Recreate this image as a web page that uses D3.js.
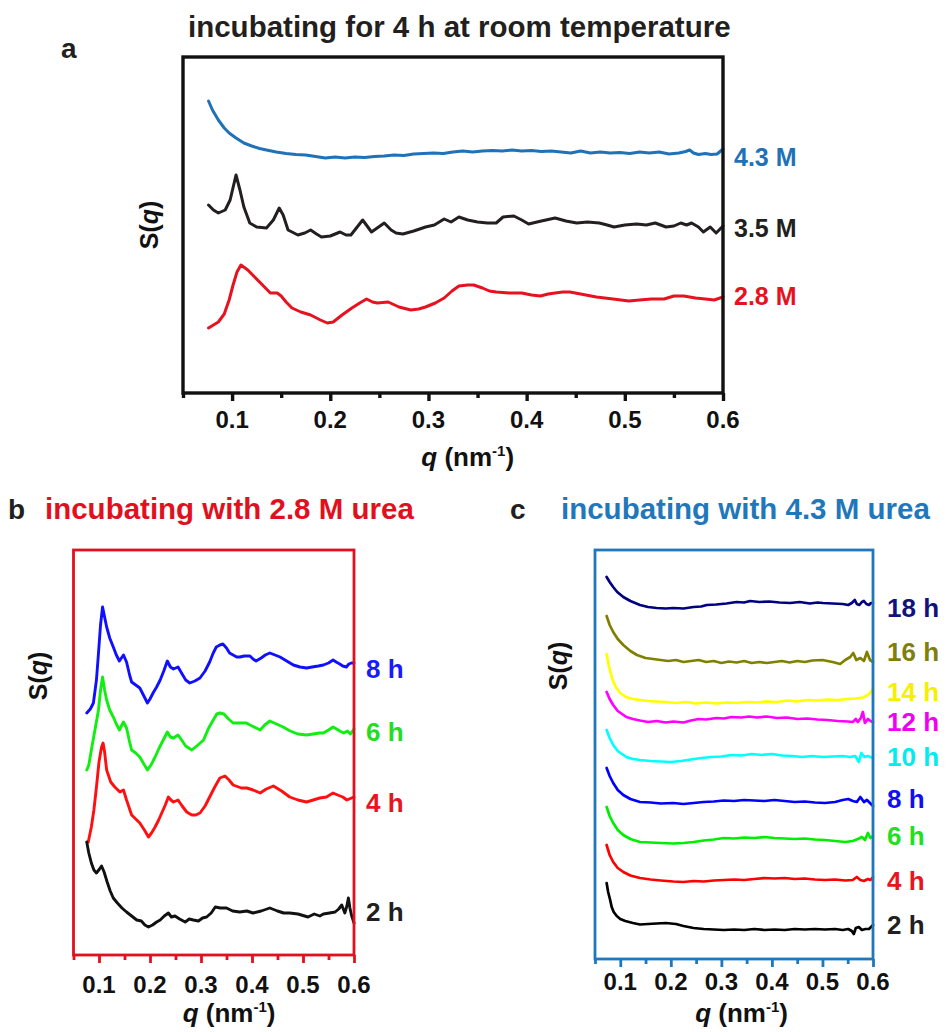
<!DOCTYPE html>
<html>
<head>
<meta charset="utf-8">
<script src="https://cdn.jsdelivr.net/npm/d3@7"></script>
<style>
  body { margin: 0; background: #fff; }
  svg text { font-family: "Liberation Sans", Arial, Helvetica, sans-serif; font-weight: bold; }
</style>
</head>
<body>
<svg id="fig" width="949" height="1032"></svg>
<script>
// ---------- shared axis values ----------
const qDomain = [0.05, 0.6];
const majorTicks = [0.1, 0.2, 0.3, 0.4, 0.5, 0.6];
const minorTicks = [0.05, 0.15, 0.25, 0.35, 0.45, 0.55];

// ---------- panel a: 4 h at room temperature, three urea concentrations ----------
// each curve: [q (nm^-1), S(q) + vertical offset (a.u.)]
const aLabels = ["4.3 M", "3.5 M", "2.8 M"];
const a43M = [
  [0.076,29.2],[0.080,28.3],[0.086,27.3],[0.092,26.5],[0.097,26.0],[0.104,25.5],[0.112,25.0],[0.120,24.7],
  [0.128,24.45],[0.135,24.3],[0.145,24.1],[0.155,23.95],[0.165,23.85],[0.175,23.8],[0.185,23.65],[0.195,23.5],
  [0.205,23.6],[0.215,23.5],[0.225,23.6],[0.235,23.55],[0.245,23.65],[0.255,23.7],[0.265,23.8],[0.275,23.75],
  [0.285,23.9],[0.295,23.95],[0.305,24.0],[0.315,23.95],[0.325,24.1],[0.335,24.2],[0.345,24.1],[0.355,24.2],
  [0.365,24.25],[0.375,24.2],[0.385,24.3],[0.395,24.2],[0.405,24.25],[0.415,24.15],[0.425,24.2],[0.435,24.1],
  [0.445,24.0],[0.455,24.2],[0.465,24.0],[0.475,24.1],[0.485,24.0],[0.495,24.05],[0.505,23.95],[0.515,24.1],
  [0.525,24.0],[0.535,24.1],[0.545,23.9],[0.555,24.0],[0.562,24.15],[0.566,24.3],[0.570,24.0],[0.575,23.85],
  [0.582,23.95],[0.588,23.85],[0.594,23.9],[0.600,24.4]
];
const a35M = [
  [0.076,18.8],[0.081,18.3],[0.086,18.0],[0.093,18.3],[0.098,19.3],[0.104,21.8],[0.108,20.3],[0.112,18.6],
  [0.118,17.0],[0.125,16.6],[0.135,16.5],[0.142,17.3],[0.148,18.5],[0.152,17.8],[0.157,16.3],[0.167,15.8],
  [0.174,16.0],[0.180,16.3],[0.186,15.9],[0.191,15.6],[0.200,15.7],[0.210,16.1],[0.216,15.8],[0.221,15.8],
  [0.233,17.3],[0.242,16.1],[0.255,17.0],[0.262,16.3],[0.267,16.0],[0.274,15.9],[0.285,16.2],[0.297,16.6],
  [0.306,16.8],[0.316,17.4],[0.323,17.1],[0.331,17.6],[0.340,17.3],[0.350,17.1],[0.360,17.0],[0.369,17.0],
  [0.376,17.6],[0.387,17.7],[0.395,17.3],[0.402,16.9],[0.415,17.2],[0.429,17.5],[0.440,17.2],[0.451,17.0],
  [0.462,17.1],[0.474,17.0],[0.482,16.8],[0.489,16.6],[0.500,16.8],[0.512,16.9],[0.522,16.8],[0.531,17.0],
  [0.542,16.6],[0.550,16.7],[0.557,17.0],[0.563,16.8],[0.568,17.0],[0.575,16.6],[0.580,16.1],[0.587,16.6],
  [0.593,16.0],[0.600,16.7]
];
const a28M = [
  [0.076,6.5],[0.086,7.1],[0.092,7.9],[0.097,9.3],[0.101,10.8],[0.105,12.1],[0.109,12.8],[0.116,12.3],
  [0.123,11.6],[0.131,10.8],[0.139,10.0],[0.146,10.0],[0.150,9.7],[0.155,9.1],[0.161,8.5],[0.170,8.1],
  [0.180,7.8],[0.190,7.3],[0.197,7.0],[0.203,7.1],[0.212,7.8],[0.222,8.5],[0.230,9.0],[0.237,9.4],
  [0.243,9.1],[0.248,9.0],[0.259,9.1],[0.270,8.6],[0.282,8.3],[0.290,8.4],[0.297,8.6],[0.307,9.0],
  [0.316,9.5],[0.324,10.2],[0.331,10.7],[0.340,10.8],[0.346,10.8],[0.355,10.5],[0.362,10.2],[0.369,10.1],
  [0.382,10.0],[0.395,10.0],[0.405,9.8],[0.414,9.7],[0.422,9.9],[0.429,10.0],[0.437,10.1],[0.444,10.1],
  [0.455,9.9],[0.471,9.6],[0.488,9.4],[0.504,9.2],[0.515,9.3],[0.527,9.4],[0.540,9.4],[0.550,9.7],
  [0.560,9.7],[0.572,9.5],[0.582,9.4],[0.591,9.3],[0.600,9.6]
];

// ---------- panel b: 2.8 M urea, incubation time ----------
const bLabels = ["8 h", "6 h", "4 h", "2 h"];
const b8h = [
  [0.076,24.2],[0.083,24.6],[0.089,25.2],[0.095,27.5],[0.099,30.2],[0.103,33.0],[0.107,34.8],[0.111,33.8],
  [0.115,32.8],[0.121,31.7],[0.128,30.8],[0.134,30.0],[0.140,29.4],[0.144,29.7],[0.148,30.0],[0.154,29.3],
  [0.160,28.0],[0.164,27.3],[0.172,27.0],[0.180,26.7],[0.188,25.9],[0.195,25.2],[0.200,25.6],[0.206,26.2],
  [0.213,26.8],[0.220,27.5],[0.227,28.4],[0.234,29.4],[0.240,28.8],[0.246,28.6],[0.255,28.8],[0.263,28.1],
  [0.270,27.5],[0.278,27.2],[0.288,27.4],[0.298,27.7],[0.308,28.4],[0.317,29.3],[0.324,30.2],[0.330,30.8],
  [0.337,31.0],[0.343,31.1],[0.350,30.7],[0.356,30.2],[0.363,30.0],[0.370,29.8],[0.376,29.8],[0.385,29.9],
  [0.396,29.9],[0.402,29.6],[0.408,29.4],[0.418,29.7],[0.426,30.0],[0.435,30.2],[0.445,30.0],[0.455,29.8],
  [0.468,29.4],[0.481,29.0],[0.494,28.8],[0.507,28.7],[0.518,28.8],[0.530,28.9],[0.540,29.0],[0.550,29.2],
  [0.559,29.5],[0.565,29.3],[0.572,29.1],[0.578,28.9],[0.585,28.8],[0.590,29.1],[0.595,29.2],[0.600,29.2]
];
const b6h = [
  [0.076,18.5],[0.080,19.0],[0.085,20.5],[0.092,22.5],[0.099,24.5],[0.103,26.5],[0.107,27.8],[0.111,26.5],
  [0.115,25.5],[0.121,24.5],[0.128,23.8],[0.134,23.1],[0.140,22.5],[0.144,22.9],[0.148,23.3],[0.154,22.7],
  [0.160,21.3],[0.164,20.5],[0.172,20.2],[0.180,19.8],[0.188,19.1],[0.195,18.5],[0.202,19.0],[0.210,19.8],
  [0.218,20.7],[0.226,21.5],[0.234,22.3],[0.240,21.8],[0.246,21.7],[0.255,22.0],[0.262,21.5],[0.270,20.9],
  [0.282,20.5],[0.294,21.0],[0.305,21.5],[0.315,22.7],[0.324,23.5],[0.331,24.1],[0.337,24.2],[0.345,24.1],
  [0.354,23.6],[0.363,23.2],[0.376,23.2],[0.389,23.2],[0.400,22.9],[0.416,22.5],[0.425,23.0],[0.435,23.4],
  [0.448,23.1],[0.461,22.8],[0.475,22.4],[0.490,22.1],[0.507,22.0],[0.520,22.1],[0.532,22.2],[0.540,22.2],
  [0.550,22.5],[0.559,22.8],[0.566,22.6],[0.572,22.4],[0.580,22.2],[0.587,22.4],[0.593,22.1],[0.600,22.6]
];
const b4h = [
  [0.079,11.3],[0.085,12.8],[0.090,14.5],[0.095,16.8],[0.100,19.3],[0.105,20.8],[0.108,21.2],[0.111,20.3],
  [0.115,18.5],[0.123,17.3],[0.131,16.8],[0.141,16.3],[0.148,16.5],[0.154,15.5],[0.164,14.0],[0.172,13.6],
  [0.180,13.2],[0.189,12.5],[0.197,11.8],[0.203,12.2],[0.210,12.8],[0.217,13.5],[0.223,14.2],[0.230,15.0],
  [0.236,15.8],[0.241,15.5],[0.246,15.3],[0.255,15.5],[0.263,14.9],[0.272,14.3],[0.282,14.0],[0.290,14.0],
  [0.298,14.2],[0.308,14.9],[0.317,15.8],[0.327,16.8],[0.337,17.7],[0.347,17.9],[0.355,17.5],[0.363,17.0],
  [0.379,16.7],[0.390,16.7],[0.402,16.5],[0.416,16.2],[0.428,16.6],[0.442,16.9],[0.458,16.4],[0.474,15.8],
  [0.490,15.5],[0.507,15.3],[0.520,15.5],[0.533,15.7],[0.546,15.8],[0.559,16.2],[0.568,16.0],[0.578,15.8],
  [0.586,15.5],[0.595,15.7],[0.600,15.8]
];
const b2h = [
  [0.076,11.3],[0.080,10.2],[0.085,9.2],[0.090,8.5],[0.095,8.2],[0.101,8.6],[0.105,8.9],[0.110,8.3],
  [0.116,7.3],[0.122,6.4],[0.128,5.7],[0.136,5.2],[0.145,4.7],[0.154,4.3],[0.164,3.9],[0.174,3.5],
  [0.183,3.4],[0.190,3.0],[0.197,2.8],[0.205,3.0],[0.213,3.3],[0.220,3.5],[0.228,3.9],[0.236,4.2],
  [0.242,3.8],[0.249,3.9],[0.258,3.6],[0.269,3.3],[0.277,3.6],[0.285,3.5],[0.295,3.4],[0.303,3.7],
  [0.311,3.8],[0.320,4.2],[0.328,4.8],[0.338,4.7],[0.350,4.7],[0.362,4.4],[0.376,4.3],[0.390,4.4],
  [0.402,4.2],[0.418,4.4],[0.435,4.7],[0.450,4.4],[0.462,4.2],[0.474,4.2],[0.490,4.1],[0.510,3.8],
  [0.522,4.1],[0.533,3.9],[0.540,4.1],[0.552,4.2],[0.563,4.3],[0.570,4.6],[0.576,5.0],[0.582,4.2],
  [0.586,4.9],[0.589,5.7],[0.592,4.7],[0.595,4.0],[0.600,3.2]
];

// ---------- panel c: 4.3 M urea, incubation time ----------
const cLabels = ["18 h", "16 h", "14 h", "12 h", "10 h", "8 h", "6 h", "4 h", "2 h"];
const c18h = [
  [0.073,38.2],[0.079,37.7],[0.086,37.2],[0.094,36.7],[0.106,36.2],[0.120,35.8],[0.139,35.4],[0.155,35.2],
  [0.172,35.1],[0.190,35.05],[0.205,35.1],[0.225,35.05],[0.245,35.2],[0.260,35.25],[0.271,35.4],[0.290,35.45],
  [0.310,35.55],[0.330,35.7],[0.345,35.65],[0.357,35.8],[0.375,35.7],[0.395,35.75],[0.415,35.65],[0.436,35.6],
  [0.455,35.7],[0.475,35.55],[0.490,35.65],[0.501,35.6],[0.520,35.55],[0.540,35.5],[0.551,35.4],[0.558,35.6],
  [0.564,35.9],[0.568,35.5],[0.573,35.4],[0.578,35.7],[0.582,35.8],[0.587,35.5],[0.592,35.4],[0.596,35.6],
  [0.600,35.6]
];
const c16h = [
  [0.073,34.3],[0.079,33.4],[0.086,32.7],[0.095,32.0],[0.106,31.4],[0.120,30.8],[0.133,30.4],[0.150,30.1],
  [0.165,30.0],[0.180,29.9],[0.195,29.8],[0.210,29.9],[0.225,29.7],[0.240,29.8],[0.255,29.9],[0.270,29.7],
  [0.285,29.8],[0.300,29.6],[0.315,29.75],[0.330,29.65],[0.345,29.8],[0.360,29.6],[0.375,29.7],[0.390,29.6],
  [0.405,29.7],[0.420,29.8],[0.435,29.65],[0.450,29.8],[0.465,29.7],[0.480,29.85],[0.500,29.9],[0.520,29.7],
  [0.535,29.5],[0.545,29.9],[0.555,30.2],[0.561,30.6],[0.567,29.9],[0.575,30.1],[0.582,29.8],[0.588,30.7],
  [0.594,29.9],[0.600,29.7]
];
const c14h = [
  [0.073,30.5],[0.077,29.4],[0.081,28.6],[0.085,27.9],[0.091,27.2],[0.100,26.6],[0.111,26.2],[0.125,26.0],
  [0.140,25.9],[0.155,25.8],[0.170,25.75],[0.190,25.7],[0.210,25.6],[0.230,25.7],[0.250,25.55],[0.270,25.65],
  [0.290,25.55],[0.310,25.65],[0.330,25.6],[0.350,25.7],[0.370,25.65],[0.390,25.75],[0.410,25.7],[0.430,25.85],
  [0.450,25.75],[0.470,25.9],[0.490,25.85],[0.510,25.95],[0.530,25.9],[0.550,26.0],[0.565,26.05],[0.580,26.15],
  [0.590,26.4],[0.596,26.7],[0.600,27.1]
];
const c12h = [
  [0.073,26.7],[0.079,26.0],[0.086,25.4],[0.095,24.8],[0.112,24.2],[0.125,24.0],[0.139,23.85],[0.155,23.7],
  [0.172,23.8],[0.190,23.65],[0.205,23.75],[0.225,23.65],[0.240,23.85],[0.255,24.0],[0.270,23.95],[0.290,24.1],
  [0.305,24.05],[0.320,24.2],[0.340,24.15],[0.355,24.25],[0.370,24.15],[0.390,24.25],[0.410,24.1],[0.430,24.15],
  [0.450,24.0],[0.470,24.05],[0.490,23.95],[0.510,23.9],[0.530,23.8],[0.550,23.75],[0.560,23.7],[0.566,24.0],
  [0.570,23.7],[0.576,24.1],[0.580,24.7],[0.584,23.6],[0.590,24.0],[0.595,23.8],[0.600,23.7]
];
const c10h = [
  [0.073,22.9],[0.079,22.1],[0.086,21.4],[0.095,20.8],[0.112,20.2],[0.125,20.0],[0.139,19.9],[0.160,19.8],
  [0.180,19.75],[0.200,19.7],[0.220,19.8],[0.240,19.95],[0.260,20.1],[0.280,20.2],[0.300,20.25],[0.320,20.4],
  [0.340,20.35],[0.360,20.5],[0.380,20.4],[0.400,20.5],[0.420,20.35],[0.440,20.3],[0.460,20.2],[0.480,20.3],
  [0.500,20.2],[0.520,20.25],[0.540,20.3],[0.555,20.2],[0.565,20.3],[0.572,19.7],[0.577,20.6],[0.583,20.2],
  [0.590,20.3],[0.595,20.2],[0.600,20.1]
];
const c8h = [
  [0.073,19.1],[0.079,18.3],[0.086,17.6],[0.095,16.9],[0.106,16.4],[0.120,16.0],[0.139,15.7],[0.160,15.65],
  [0.180,15.55],[0.205,15.6],[0.225,15.5],[0.245,15.6],[0.265,15.7],[0.285,15.75],[0.305,15.85],[0.325,15.8],
  [0.345,15.9],[0.365,15.85],[0.385,15.8],[0.405,15.9],[0.425,15.8],[0.445,15.7],[0.465,15.75],[0.485,15.65],
  [0.505,15.6],[0.525,15.7],[0.540,15.9],[0.551,16.0],[0.560,15.8],[0.568,15.7],[0.575,16.2],[0.582,15.7],
  [0.588,15.9],[0.594,15.6],[0.600,15.3]
];
const c6h = [
  [0.073,15.2],[0.079,14.3],[0.086,13.6],[0.095,12.9],[0.106,12.4],[0.120,12.0],[0.139,11.7],[0.160,11.65],
  [0.180,11.6],[0.205,11.55],[0.225,11.6],[0.245,11.7],[0.265,11.85],[0.285,11.95],[0.305,12.1],[0.325,12.05],
  [0.345,12.15],[0.365,12.1],[0.385,12.2],[0.405,12.1],[0.425,12.05],[0.445,12.0],[0.465,12.05],[0.485,11.95],
  [0.505,11.9],[0.525,11.8],[0.545,11.7],[0.560,11.8],[0.570,12.0],[0.578,12.2],[0.584,11.9],[0.590,12.6],
  [0.595,12.1],[0.600,12.3]
];
const c4h = [
  [0.073,11.4],[0.079,10.4],[0.086,9.7],[0.095,9.1],[0.106,8.7],[0.120,8.35],[0.139,8.1],[0.160,7.95],
  [0.180,7.85],[0.205,7.75],[0.225,7.7],[0.245,7.8],[0.265,7.75],[0.285,7.85],[0.305,7.9],[0.325,7.95],
  [0.345,7.9],[0.365,8.0],[0.385,8.1],[0.405,8.05],[0.425,8.1],[0.445,8.0],[0.465,8.05],[0.485,7.95],
  [0.505,7.9],[0.525,7.95],[0.545,7.85],[0.560,7.9],[0.568,8.2],[0.575,7.9],[0.582,7.8],[0.590,8.0],
  [0.595,7.9],[0.600,8.2]
];
const c2h = [
  [0.073,7.6],[0.076,6.7],[0.080,5.9],[0.083,5.2],[0.087,4.7],[0.093,4.3],[0.100,4.0],[0.110,3.8],
  [0.125,3.6],[0.139,3.45],[0.155,3.5],[0.172,3.55],[0.190,3.6],[0.210,3.5],[0.225,3.3],[0.245,3.1],
  [0.265,3.0],[0.285,2.95],[0.305,2.9],[0.325,2.95],[0.345,2.9],[0.365,3.0],[0.385,2.9],[0.405,2.95],
  [0.425,2.9],[0.445,3.0],[0.465,2.95],[0.485,3.0],[0.505,2.95],[0.525,3.0],[0.540,2.9],[0.551,3.0],
  [0.558,2.8],[0.562,2.5],[0.566,3.1],[0.572,3.2],[0.578,2.9],[0.585,3.0],[0.592,3.0],[0.600,3.4]
];

// ---------- drawing ----------
const svg = d3.select("#fig");
const fmt = d3.format(".1f");

function drawPanel(p) {
  const x = d3.scaleLinear().domain(qDomain).range([p.left, p.right]);
  const y = d3.scaleLinear().domain([0, p.sMax]).range([p.bottom, p.top]);
  const g = svg.append("g");

  const line = d3.line().x(d => x(d[0])).y(d => y(d[1]));
  p.series.forEach((s, i) => {
    g.append("path").datum(s)
      .attr("d", line)
      .attr("fill", "none")
      .attr("stroke", p.colors[i])
      .attr("stroke-width", p.lineWidth)
      .attr("stroke-linejoin", "round")
      .attr("stroke-linecap", "round");
  });

  // frame
  g.append("rect")
    .attr("x", p.left).attr("y", p.top)
    .attr("width", p.right - p.left).attr("height", p.bottom - p.top)
    .attr("fill", "none").attr("stroke", p.frame).attr("stroke-width", p.frameWidth);

  // bottom axis: major and minor tick marks (labels are set separately below)
  const major = g.append("g").attr("transform", `translate(0,${p.bottom})`)
    .call(d3.axisBottom(x).tickValues(majorTicks).tickSize(8).tickFormat(""));
  const minor = g.append("g").attr("transform", `translate(0,${p.bottom})`)
    .call(d3.axisBottom(x).tickValues(minorTicks).tickSize(5).tickFormat(""));
  [major, minor].forEach(a => {
    a.select(".domain").remove();
    a.selectAll(".tick line").attr("stroke", p.frame).attr("stroke-width", p.frameWidth);
    a.selectAll(".tick text").remove();
  });

  // tick labels
  g.append("g").selectAll("text").data(majorTicks).join("text")
    .attr("x", d => x(d))
    .attr("y", p.bottom + p.tickTextY)
    .attr("text-anchor", "middle")
    .attr("font-size", 24)
    .attr("fill", "#111")
    .text(d => fmt(d));

  // x-axis title
  const xt = g.append("text")
    .attr("x", x(p.xTitleAt)).attr("y", p.xTitleY)
    .attr("text-anchor", "middle").attr("fill", "#111").attr("font-size", 26);
  xt.append("tspan").attr("font-style", "italic").text("q");
  xt.append("tspan").text(" (nm");
  xt.append("tspan").attr("dy", -10).attr("font-size", 15).text("-1");
  xt.append("tspan").attr("dy", 10).text(")");

  // y-axis title
  const yt = g.append("text")
    .attr("transform", `translate(${p.yTitleX},${p.yTitleY}) rotate(-90)`)
    .attr("text-anchor", "middle").attr("fill", "#111").attr("font-size", 25);
  yt.append("tspan").text("S(");
  yt.append("tspan").attr("font-style", "italic").text("q");
  yt.append("tspan").text(")");

  // series labels at the right end, centred on each curve's high-q plateau
  p.series.forEach((s, i) => {
    const tail = s.filter(d => d[0] >= 0.5).map(d => d[1]);
    g.append("text")
      .attr("x", p.labelX)
      .attr("y", y(d3.mean(tail)) + p.labelNudge[i])
      .attr("dy", "0.36em")
      .attr("fill", p.labelColors ? p.labelColors[i] : p.colors[i])
      .attr("font-size", p.labelSize)
      .text(p.labels[i]);
  });
}

// panel a
drawPanel({
  left: 183, right: 723, top: 57, bottom: 393, sMax: 33.6,
  frame: "#111", frameWidth: 3.4, lineWidth: 3.0,
  series: [a43M, a35M, a28M], labels: aLabels,
  colors: ["#1f72b8", "#231f20", "#e6121f"],
  labelX: 734, labelSize: 25, labelNudge: [4, 1.5, -2.5],
  tickTextY: 35, xTitleAt: 0.34, xTitleY: 466,
  yTitleX: 158, yTitleY: 225
});

// panel b
drawPanel({
  left: 73.5, right: 354, top: 550, bottom: 955, sMax: 40.5,
  frame: "#e2101e", frameWidth: 2.8, lineWidth: 2.9,
  series: [b8h, b6h, b4h, b2h], labels: bLabels,
  colors: ["#1010ff", "#11ee11", "#ff1010", "#111111"],
  labelColors: ["#1a1aff", "#22dd22", "#e8141e", "#231f20"],
  labelX: 366, labelSize: 26, labelNudge: [4, 0, 5, 0],
  tickTextY: 38, xTitleAt: 0.355, xTitleY: 1022,
  yTitleX: 47, yTitleY: 676
});

// panel c
drawPanel({
  left: 595, right: 873, top: 550, bottom: 959, sMax: 40.9,
  frame: "#1f78bb", frameWidth: 2.8, lineWidth: 2.7,
  series: [c18h, c16h, c14h, c12h, c10h, c8h, c6h, c4h, c2h], labels: cLabels,
  colors: ["#000080", "#808000", "#ffff00", "#ff00ff", "#00ffff", "#0000ff", "#00ee00", "#ff0000", "#000000"],
  labelColors: ["#12137a", "#7f7f10", "#f5f000", "#f000f0", "#00ecf0", "#1010f0", "#20e020", "#e8141e", "#231f20"],
  labelX: 887, labelSize: 26, labelNudge: [4, -7, -5, 1.5, 0, -2.5, -3.5, 1.5, -5],
  tickTextY: 31, xTitleAt: 0.34, xTitleY: 1022,
  yTitleX: 567, yTitleY: 666
});

// panel letters and titles
const heads = [
  { letter: "a", lx: 61, ly: 58, title: "incubating for 4 h at room temperature", tx: 188, ty: 37, color: "#231f20" },
  { letter: "b", lx: 8, ly: 519, title: "incubating with 2.8 M urea", tx: 45, ty: 519, color: "#e2101e" },
  { letter: "c", lx: 510, ly: 519, title: "incubating with 4.3 M urea", tx: 561, ty: 519, color: "#1f78bb" }
];
heads.forEach(h => {
  svg.append("text").attr("x", h.lx).attr("y", h.ly).attr("fill", "#231f20")
    .attr("font-size", 28).text(h.letter);
  svg.append("text").attr("x", h.tx).attr("y", h.ty).attr("fill", h.color)
    .attr("font-size", 29.5).text(h.title);
});
</script>
</body>
</html>
